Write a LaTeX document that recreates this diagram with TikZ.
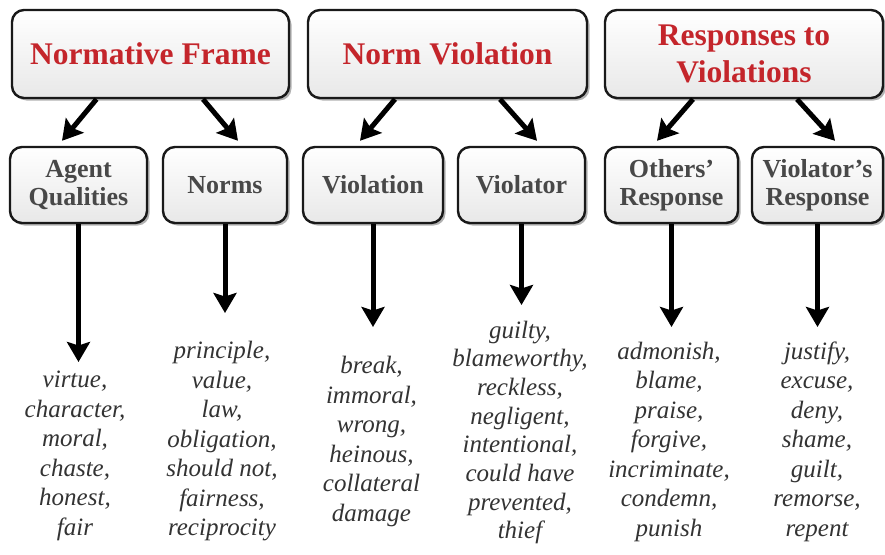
\documentclass[tikz,border=0pt]{standalone}
\usepackage{fontspec}
\setmainfont{Liberation Serif}
\usetikzlibrary{arrows.meta,shadows,calc}
\definecolor{headred}{HTML}{C4252B}
\definecolor{subgrey}{HTML}{484848}
\definecolor{wordgrey}{HTML}{333333}
\begin{document}
\begin{tikzpicture}[x=1pt,y=-1pt,
 box/.style={draw=black!90, line width=2.4pt, rounded corners=12pt, top color=white, bottom color=black!9,
   drop shadow={shadow xshift=2.5pt,shadow yshift=-2.5pt,opacity=0.6}, inner sep=0pt, align=center},
 head/.style={box, minimum height=88pt, font=\fontsize{31.5}{37}\selectfont\bfseries, text=headred},
 sub/.style={box, minimum height=76pt, font=\fontsize{26}{28}\selectfont\bfseries, text=subgrey},
 words/.style={align=center, inner sep=0pt, font=\fontsize{25}{29.5}\selectfont\itshape, text=wordgrey},
 arr/.style={line width=5pt, -{Stealth[length=20pt,width=23pt,inset=3.5pt]}}
]
\useasboundingbox (0,0) rectangle (885,554);
\fill[white] (0,0) rectangle (885,554);

% top boxes
\node[head, minimum width=277pt] (NF) at (150.5,54) {Normative Frame};
\node[head, minimum width=279pt] (NV) at (447.5,54) {Norm Violation};
\node[head, minimum width=278pt] (RV) at (744,54) {Responses to\\Violations};

% sub boxes
\node[sub, minimum width=137pt] (AQ) at (78.5,185) {Agent\\Qualities};
\node[sub, minimum width=124pt] (NO) at (225,185) {Norms};
\node[sub, minimum width=140pt] (VN) at (373,185) {Violation};
\node[sub, minimum width=127pt] (VR) at (521.5,185) {Violator};
\node[sub, minimum width=133pt] (OR) at (671.5,185) {Others’\\Response};
\node[sub, minimum width=131pt] (VS) at (817.5,185) {Violator’s\\Response};

% word lists
\node[words] (W1) at (75,456) {virtue,\\character,\\moral,\\chaste,\\honest,\\fair};
\node[words] (W2) at (222,441.5) {principle,\\value,\\law,\\obligation,\\should not,\\fairness,\\reciprocity};
\node[words] (W3) at (371.5,441.5) {break,\\immoral,\\wrong,\\heinous,\\collateral\\damage};
\node[words, font=\fontsize{25}{28.7}\selectfont\itshape] (W4) at (520,432.5) {guilty,\\blameworthy,\\reckless,\\negligent,\\intentional,\\could have\\prevented,\\thief};
\node[words] (W5) at (669,441.5) {admonish,\\blame,\\praise,\\forgive,\\incriminate,\\condemn,\\punish};
\node[words] (W6) at (817,441.5) {justify,\\excuse,\\deny,\\shame,\\guilt,\\remorse,\\repent};

% arrow tip coordinates
\coordinate (t1) at (78.5,362);
\coordinate (t2) at (225,313);
\coordinate (t3) at (373,327);
\coordinate (t4) at (521.5,305);
\coordinate (t5) at (671.5,327);
\coordinate (t6) at (817.5,327);

% diagonal arrows
\draw[arr] ([xshift=-54pt]NF.south) -- ([xshift=-16.5pt,yshift=5pt]AQ.north);
\draw[arr] ([xshift=52.5pt]NF.south) -- ([xshift=13pt,yshift=5pt]NO.north);
\draw[arr] ([xshift=-52.5pt]NV.south) -- ([xshift=-13pt,yshift=5pt]VN.north);
\draw[arr] ([xshift=52.5pt]NV.south) -- ([xshift=15.5pt,yshift=5pt]VR.north);
\draw[arr] ([xshift=-51pt]RV.south) -- ([xshift=-14.5pt,yshift=5pt]OR.north);
\draw[arr] ([xshift=53pt]RV.south) -- ([xshift=17.5pt,yshift=5pt]VS.north);

% vertical arrows
\draw[arr] (AQ.south) -- (t1);
\draw[arr] (NO.south) -- (t2);
\draw[arr] (VN.south) -- (t3);
\draw[arr] (VR.south) -- (t4);
\draw[arr] (OR.south) -- (t5);
\draw[arr] (VS.south) -- (t6);
\end{tikzpicture}
\end{document}
